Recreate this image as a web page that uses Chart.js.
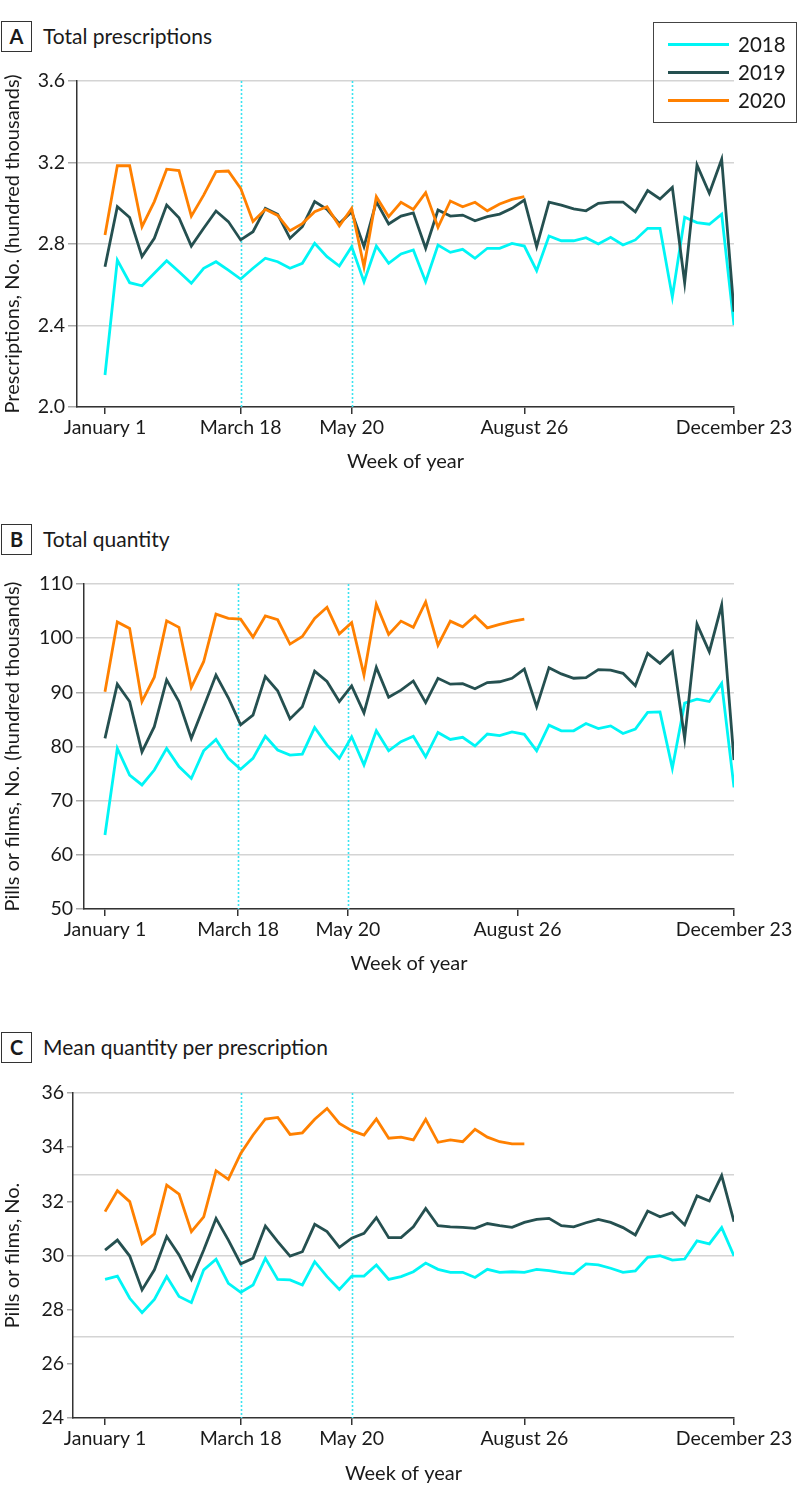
<!DOCTYPE html>
<html>
<head>
<meta charset="utf-8">
<script src="https://cdn.jsdelivr.net/npm/chart.js@4.4.0/dist/chart.umd.min.js"></script>
<style>
  body{margin:0;background:#fff;width:798px;height:1504px;position:relative;overflow:hidden;font-family:Lato,"Noto Sans",sans-serif;color:#1a1a1a}
  .plabel{position:absolute;left:1px;width:29px;height:29px;border:1.5px solid #333;font-weight:bold;font-size:20px;line-height:29px;text-align:center}
  .ptitle{position:absolute;left:43px;font-size:21px;line-height:30px;white-space:nowrap}
  .cv{position:absolute;left:0;width:798px}
  #legend{position:absolute;left:653px;top:22px;width:144px;height:101px;border:1.5px solid #444;box-sizing:border-box}
  .li{position:absolute;left:14px;height:28px;width:130px}
  .li span.sw{position:absolute;left:0;top:12.5px;width:61px;height:3px}
  .li span.tx{position:absolute;left:70px;top:0;font-size:20.5px;line-height:28px}
</style>
</head>
<body>
<div class="plabel" style="top:21px">A</div><div class="ptitle" style="top:21px">Total prescriptions</div>
<div class="plabel" style="top:524px">B</div><div class="ptitle" style="top:524px">Total quantity</div>
<div class="plabel" style="top:1032px">C</div><div class="ptitle" style="top:1032px">Mean quantity per prescription</div>

<div class="cv" style="top:60px;height:414px"><canvas id="cA"></canvas></div>
<div class="cv" style="top:560px;height:416px"><canvas id="cB"></canvas></div>
<div class="cv" style="top:1070px;height:416px"><canvas id="cC"></canvas></div>

<div id="legend"></div>

<script>
// ---------- data ----------
const years = ['2018', '2019', '2020'];
const tickLabels = ['January 1', 'March 18', 'May 20', 'August 26', 'December 23'];
const tickWeeks = [0, 11, 20, 34, 51];
const tickWeeksB = [0, 10.8, 19.7, 33.45, 51];
const markerWeeks = [11, 20];          // March 18, May 20
const markerWeeksB = [10.8, 19.7];

const yTicksA = [2.0, 2.4, 2.8, 3.2, 3.6];
const yTicksB = [50, 60, 70, 80, 90, 100, 110];
const yTicksC = [24, 26, 28, 30, 32, 34, 36];
const yGridC = [27, 30, 33, 36];

// A: Total prescriptions (hundred thousands)
const presc2018 = [2.157, 2.721, 2.61, 2.595, 2.656, 2.718, 2.664, 2.607, 2.681, 2.713, 2.672, 2.628, 2.681, 2.73, 2.713, 2.681, 2.705, 2.803, 2.738, 2.692, 2.787, 2.615, 2.79, 2.705, 2.751, 2.771, 2.615, 2.795, 2.759, 2.774, 2.73, 2.779, 2.779, 2.803, 2.79, 2.669, 2.839, 2.816, 2.816, 2.831, 2.8, 2.833, 2.795, 2.82, 2.877, 2.877, 2.54, 2.931, 2.905, 2.897, 2.946, 2.402];
const presc2019 = [2.688, 2.983, 2.93, 2.738, 2.828, 2.991, 2.929, 2.79, 2.877, 2.962, 2.91, 2.82, 2.86, 2.975, 2.946, 2.828, 2.885, 3.008, 2.97, 2.9, 2.958, 2.787, 3.008, 2.898, 2.937, 2.953, 2.779, 2.967, 2.937, 2.942, 2.914, 2.934, 2.947, 2.975, 3.016, 2.787, 3.005, 2.991, 2.972, 2.963, 3.0, 3.006, 3.006, 2.958, 3.062, 3.021, 3.078, 2.61, 3.188, 3.049, 3.216, 2.468];
const presc2020 = [2.844, 3.184, 3.184, 2.885, 3.008, 3.167, 3.16, 2.937, 3.04, 3.155, 3.158, 3.073, 2.91, 2.97, 2.94, 2.865, 2.9, 2.958, 2.983, 2.888, 2.975, 2.688, 3.032, 2.934, 3.005, 2.97, 3.052, 2.882, 3.011, 2.983, 3.005, 2.963, 2.996, 3.019, 3.032];

// B: Total quantity (hundred thousands)
const qty2018 = [63.65, 79.65, 74.7, 72.9, 75.65, 79.65, 76.3, 74.1, 79.2, 81.3, 77.8, 75.8, 77.8, 81.9, 79.35, 78.4, 78.6, 83.5, 80.3, 77.8, 81.8, 76.6, 82.9, 79.2, 80.9, 81.9, 78.1, 82.6, 81.3, 81.7, 80.1, 82.3, 82.0, 82.7, 82.25, 79.2, 83.95, 82.9, 82.9, 84.25, 83.3, 83.8, 82.4, 83.2, 86.3, 86.4, 76.0, 88.0, 88.75, 88.3, 91.65, 72.45];
const qty2019 = [81.5, 91.5, 88.3, 79.0, 83.65, 92.3, 88.3, 81.5, 87.3, 93.2, 89.0, 84.0, 85.8, 92.9, 90.3, 85.1, 87.35, 93.9, 92.0, 88.3, 91.2, 86.2, 94.6, 89.1, 90.4, 92.1, 88.1, 92.6, 91.5, 91.6, 90.65, 91.8, 91.95, 92.6, 94.3, 87.35, 94.55, 93.4, 92.6, 92.7, 94.2, 94.1, 93.5, 91.2, 97.2, 95.35, 97.5, 81.5, 102.6, 97.5, 106.1, 77.5];
const qty2020 = [90.1, 103.0, 101.8, 88.3, 92.8, 103.2, 102.0, 90.9, 95.65, 104.45, 103.65, 103.5, 100.2, 104.1, 103.4, 98.9, 100.3, 103.65, 105.7, 100.8, 102.85, 93.2, 106.25, 100.7, 103.15, 102.0, 106.7, 98.7, 103.15, 102.1, 104.1, 101.9, 102.55, 103.1, 103.5];

// C: Mean quantity per prescription
const mean2018 = [29.12, 29.24, 28.42, 27.89, 28.38, 29.22, 28.49, 28.26, 29.47, 29.86, 28.97, 28.64, 28.91, 29.9, 29.12, 29.1, 28.91, 29.77, 29.22, 28.75, 29.24, 29.24, 29.65, 29.12, 29.22, 29.4, 29.72, 29.49, 29.38, 29.38, 29.19, 29.49, 29.38, 29.4, 29.38, 29.49, 29.44, 29.37, 29.32, 29.69, 29.65, 29.53, 29.38, 29.43, 29.93, 29.99, 29.83, 29.87, 30.54, 30.43, 31.03, 29.98];
const mean2019 = [30.2, 30.57, 29.98, 28.73, 29.47, 30.7, 30.02, 29.12, 30.2, 31.37, 30.57, 29.69, 29.9, 31.09, 30.51, 29.98, 30.14, 31.15, 30.88, 30.3, 30.64, 30.82, 31.4, 30.66, 30.66, 31.06, 31.74, 31.1, 31.06, 31.04, 31.0, 31.18, 31.1, 31.04, 31.22, 31.33, 31.37, 31.1, 31.06, 31.21, 31.33, 31.22, 31.03, 30.76, 31.64, 31.43, 31.58, 31.13, 32.2, 32.01, 32.95, 31.25];
const mean2020 = [31.62, 32.39, 31.99, 30.43, 30.8, 32.6, 32.27, 30.88, 31.43, 33.13, 32.81, 33.77, 34.45, 35.04, 35.1, 34.47, 34.53, 35.03, 35.43, 34.88, 34.61, 34.45, 35.04, 34.33, 34.37, 34.27, 35.03, 34.18, 34.27, 34.2, 34.66, 34.37, 34.2, 34.12, 34.12];

// ---------- styling ----------
const colors = ['#00f5f5', '#255050', '#ff8000'];
const FONT = 'Lato, "Noto Sans", sans-serif';
const TXT = '#1a1a1a';
const AXIS = '#333333';
const GRID = '#d4d4d4';

// legend (HTML)
const leg = document.getElementById('legend');
years.forEach((y, i) => {
  const d = document.createElement('div');
  d.className = 'li';
  d.style.top = (7 + i * 28) + 'px';
  d.innerHTML = '<span class="sw" style="background:' + colors[i] + '"></span><span class="tx">' + y + '</span>';
  leg.appendChild(d);
});

const markerPlugin = {
  id: 'markers',
  beforeDatasetsDraw(chart, args, opts) {
    const {ctx, chartArea: {top, bottom}, scales: {x}} = chart;
    ctx.save();
    ctx.strokeStyle = '#3be3f0';
    ctx.lineWidth = 1.6;
    ctx.setLineDash([2, 2]);
    (opts.weeks || []).forEach(w => {
      const px = Math.round(x.getPixelForValue(w)) + 0.5;
      ctx.beginPath(); ctx.moveTo(px, top); ctx.lineTo(px, bottom); ctx.stroke();
    });
    ctx.restore();
  }
};

function series(vals) { return vals.map((v, i) => ({x: i, y: v})); }

function makeChart(id, p) {
  const datasets = [p.s2018, p.s2019, p.s2020].map((vals, i) => ({
    label: years[i],
    data: series(vals),
    borderColor: colors[i],
    backgroundColor: colors[i],
    borderWidth: 2.8,
    pointRadius: 0,
    tension: 0,
    fill: false,
    borderJoinStyle: 'miter',
    yAxisID: 'y',
    order: 2 - i
  }));
  const scales = {
    x: {
      type: 'linear', min: p.xmin, max: 51,
      afterBuildTicks: s => { s.ticks = p.xticks.map(v => ({value: v})); },
      afterFit: s => { s.height = p.xh; },
      ticks: {autoSkip: false, maxRotation: 0, padding: 2, color: TXT,
              font: {family: FONT, size: 19.5},
              callback: (v, i) => tickLabels[i]},
      grid: {drawOnChartArea: false, drawTicks: true, tickLength: 7, color: AXIS, lineWidth: 1.5},
      border: {color: AXIS, width: 1.5},
      title: {display: true, text: 'Week of year', color: TXT, font: {family: FONT, size: 20}, padding: {top: 0, bottom: 0}}
    },
    y: {
      type: 'linear', min: p.ymin, max: p.ymax,
      afterBuildTicks: s => { s.ticks = p.yticks.map(v => ({value: v})); },
      afterFit: s => { s.width = p.yw; },
      ticks: {padding: 3, color: TXT, font: {family: FONT, size: 19.5}, callback: p.yfmt},
      grid: {drawOnChartArea: !p.ygrid, drawTicks: true, tickLength: p.ytl, color: GRID, tickColor: '#a8a8a8', lineWidth: 1.5},
      border: {color: AXIS, width: 1.5},
      title: {display: true, text: p.ytitle, color: TXT, font: {family: FONT, size: 20}, padding: {top: 1, bottom: 0}}
    }
  };
  if (p.ygrid) {
    scales.g = {
      type: 'linear', position: 'right', min: p.ymin, max: p.ymax,
      afterBuildTicks: s => { s.ticks = p.ygrid.map(v => ({value: v})); },
      afterFit: s => { s.width = 0; },
      ticks: {display: false},
      grid: {drawTicks: false, color: GRID, lineWidth: 1.5},
      border: {display: false}
    };
  }
  return new Chart(document.getElementById(id), {
    type: 'line',
    data: {datasets},
    options: {
      responsive: true, maintainAspectRatio: false, animation: false,
      layout: {padding: {top: p.top, right: 64, bottom: 0, left: 0}},
      plugins: {legend: {display: false}, tooltip: {enabled: false}, markers: {weeks: p.markers}},
      scales
    },
    plugins: [markerPlugin]
  });
}

makeChart('cA', {
  s2018: presc2018, s2019: presc2019, s2020: presc2020,
  xmin: -2.27, xticks: tickWeeks, markers: markerWeeks, xh: 67,
  ymin: 2.0, ymax: 3.6, yticks: yTicksA, yw: 77, ytl: 9, yfmt: v => v.toFixed(1),
  ytitle: 'Prescriptions, No. (hundred thousands)', top: 21
});
makeChart('cB', {
  s2018: qty2018, s2019: qty2019, s2020: qty2020,
  xmin: -1.70, xticks: tickWeeksB, markers: markerWeeksB, xh: 67,
  ymin: 50, ymax: 110, yticks: yTicksB, yw: 84, ytl: 8, yfmt: v => String(v),
  ytitle: 'Pills or films, No. (hundred thousands)', top: 24
});
makeChart('cC', {
  s2018: mean2018, s2019: mean2019, s2020: mean2020,
  xmin: -2.6, xticks: tickWeeks, markers: markerWeeks, xh: 68,
  ymin: 24, ymax: 36, yticks: yTicksC, ygrid: yGridC, yw: 73, ytl: 6, yfmt: v => String(v),
  ytitle: 'Pills or films, No.', top: 23
});
</script>
</body>
</html>
